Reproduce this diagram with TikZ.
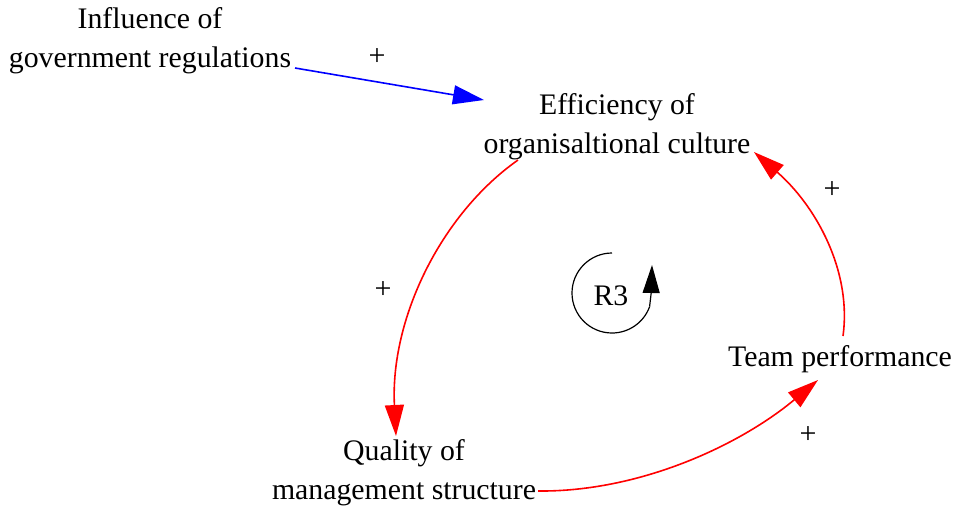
\documentclass[tikz,border=0pt]{standalone}
\usepackage{fontspec}
\setmainfont{Liberation Serif}
\usetikzlibrary{arrows.meta}
\tikzset{
  lbl/.style={align=center, inner sep=0pt, font=\fontsize{29.8}{39}\selectfont},
  pluslbl/.style={inner sep=0pt, font=\fontsize{30}{36}\selectfont},
  posarrow/.style={red, line width=1.6pt, -{Triangle[length=31pt,width=19pt]}},
  govarrow/.style={blue, line width=1.6pt, -{Triangle[length=31pt,width=19pt]}},
}
\begin{document}
\begin{tikzpicture}[x=1pt,y=-1pt]
\useasboundingbox (0,0) rectangle (958,512);
\node[lbl] (infl) at (150,41) {Influence of\\government regulations};
\node[lbl] (eff) at (617,127) {Efficiency of\\organisaltional culture};
\node[lbl] (team) at (840,359) {Team performance};
\node[lbl] (qual) at (404,473) {Quality of\\management structure};
\node[lbl] (r3) at (611,296) {R3};

\coordinate (inflout) at (295,68);
\coordinate (effin) at (484,100);
\coordinate (effout) at (518,160);
\coordinate (qualin) at (396,436);
\coordinate (qualout) at (538,491);
\coordinate (teamin) at (818,380);
\coordinate (teamout) at (843,336);
\coordinate (effin2) at (754,152);

\draw[govarrow] (inflout) -- (effin);
\draw[posarrow] (effout) .. controls (440,215) and (390,320) .. (qualin);
\draw[posarrow] (qualout) .. controls (640,492) and (740,445) .. (teamin);
\draw[posarrow] (teamout) .. controls (852,270) and (815,205) .. (effin2);

\node[pluslbl] (p1) at (377,57) {+};
\node[pluslbl] (p2) at (383,290) {+};
\node[pluslbl] (p3) at (808,435) {+};
\node[pluslbl] (p4) at (832,190) {+};

\draw[line width=1.2pt] (612,253) arc[start angle=270, end angle=20, radius=40]
  coordinate (loopend);
\draw[line width=1.2pt, -{Triangle[length=28pt,width=17pt]}] (loopend) .. controls (651,300) .. (652,265);
\end{tikzpicture}
\end{document}
